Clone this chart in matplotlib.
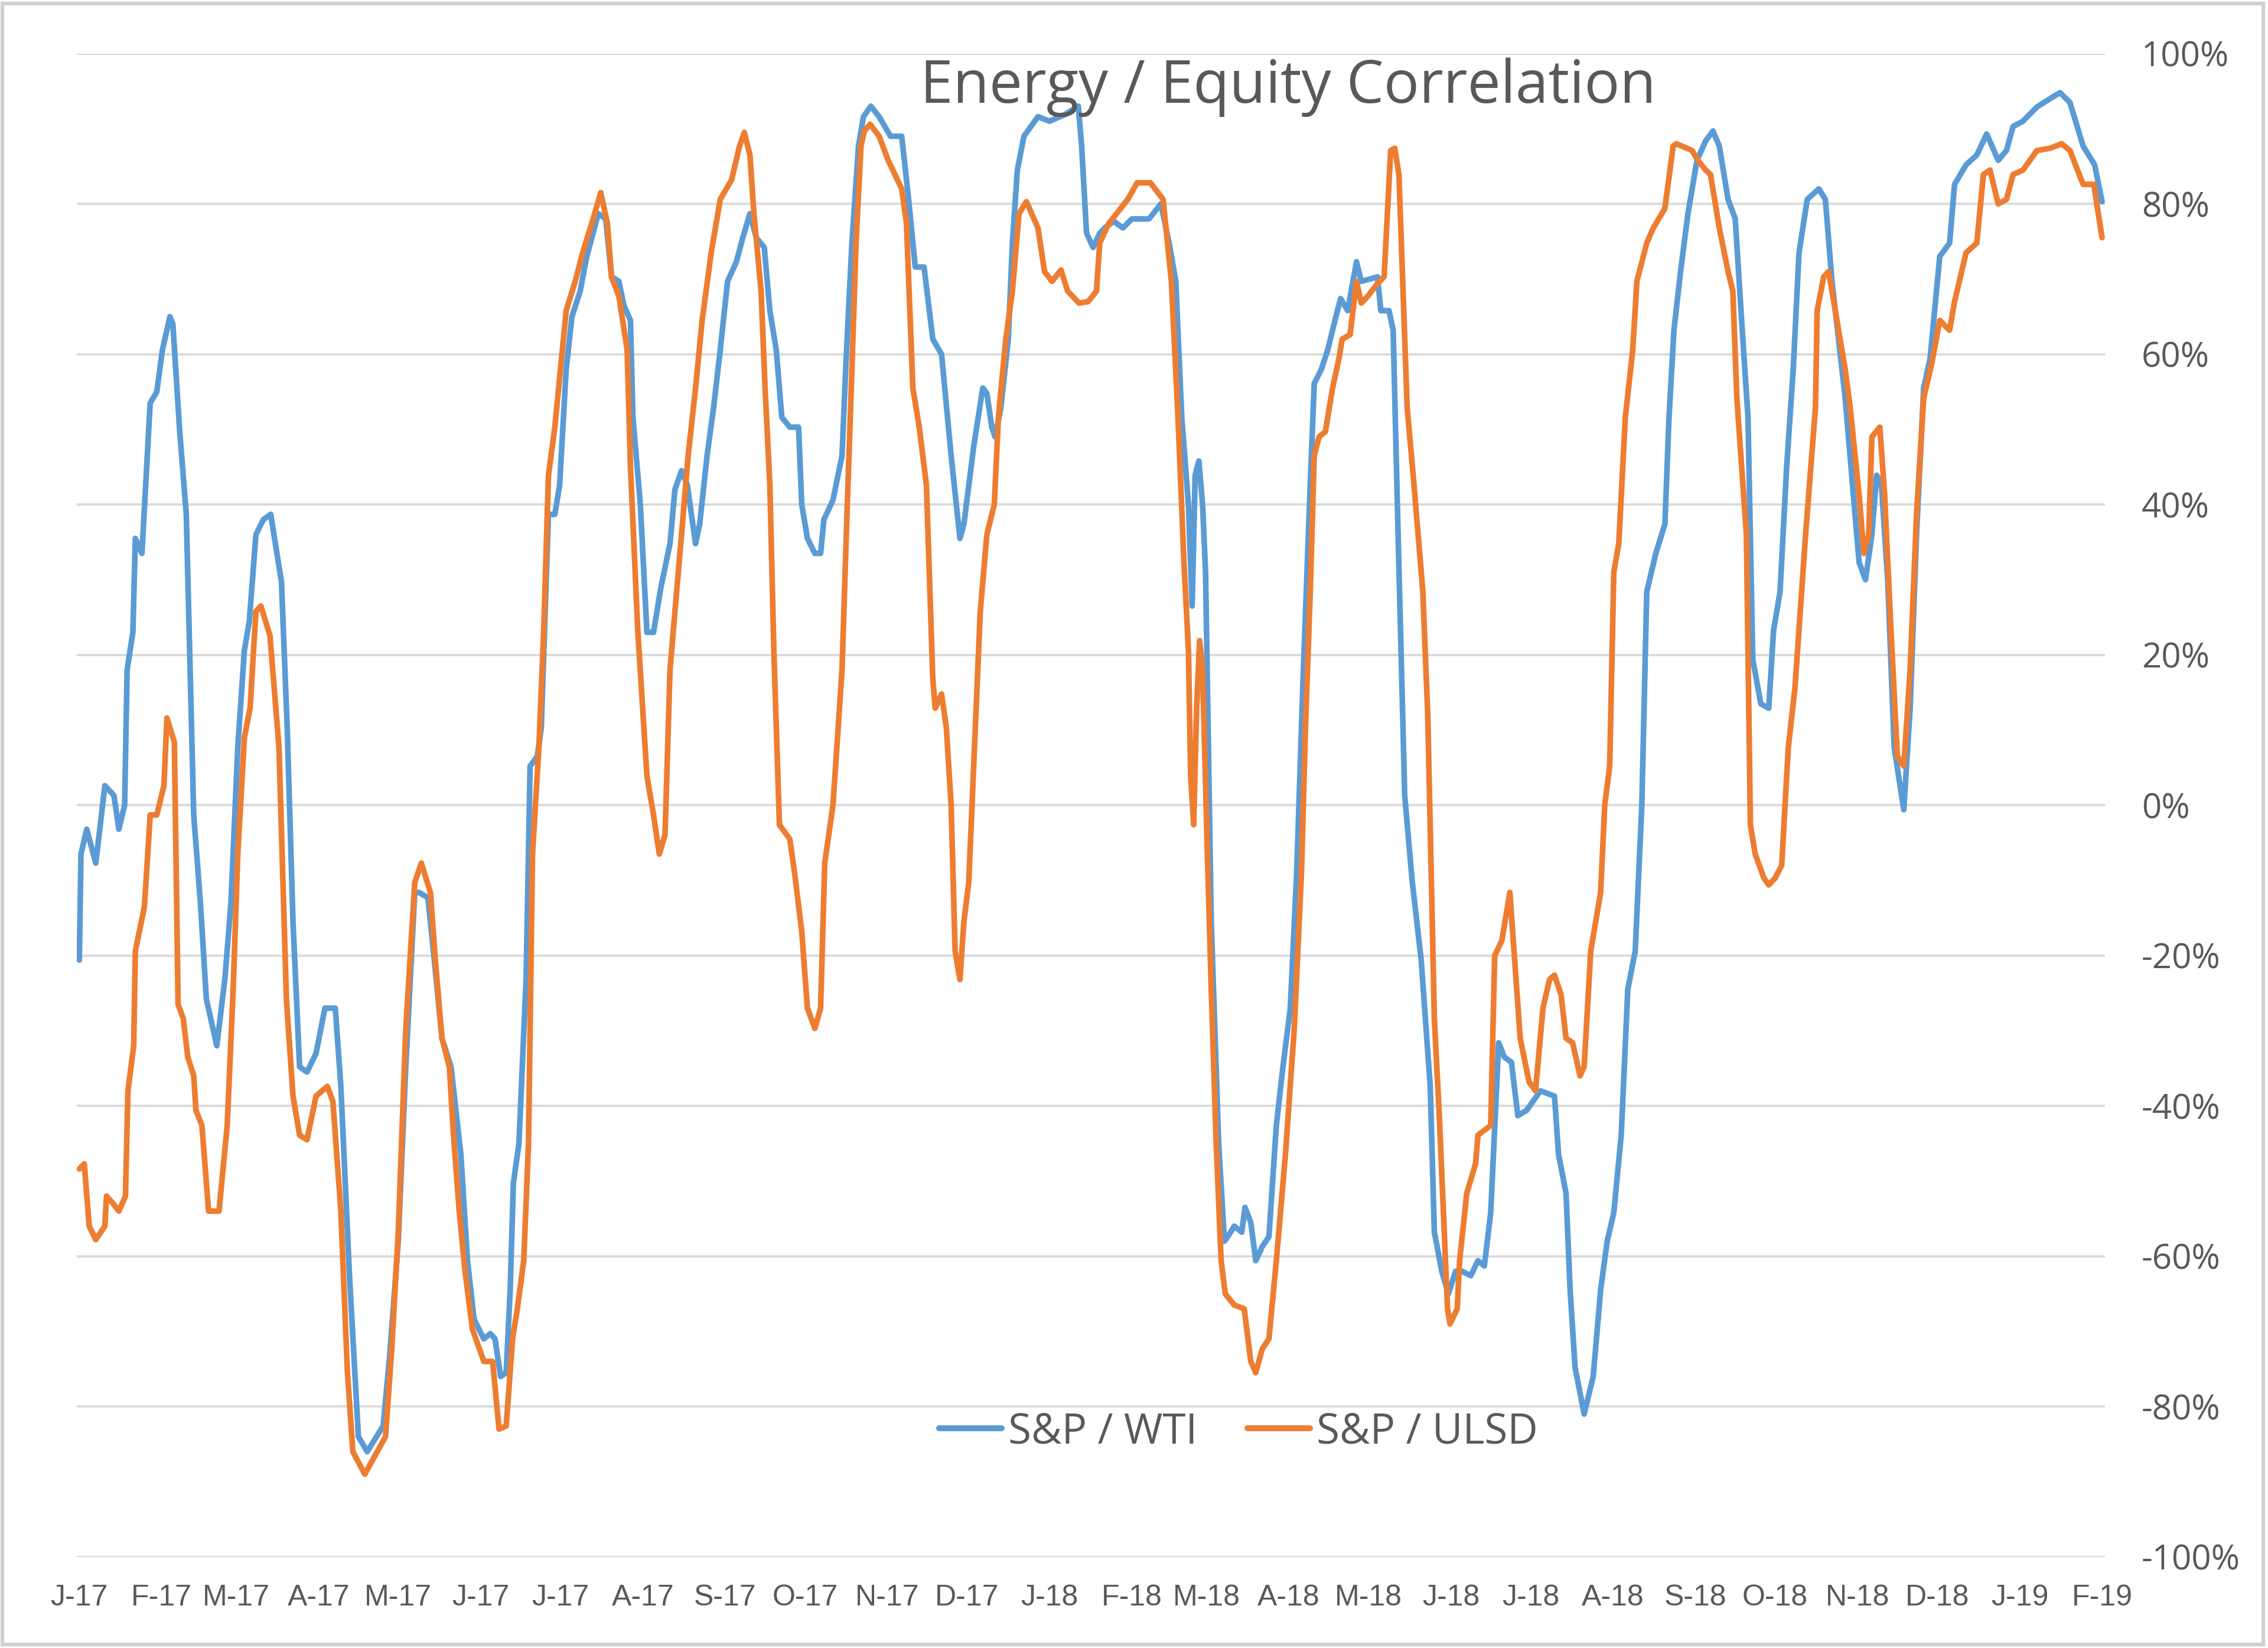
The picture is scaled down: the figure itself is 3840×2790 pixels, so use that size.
import numpy as np
import pandas as pd
import matplotlib
matplotlib.use("Agg")
import matplotlib.pyplot as plt
from matplotlib.patches import Rectangle

# ---------------- data (months since 1-Jan-2017, correlation in %) ----------------
wti_t = [0.0, 0.02, 0.09, 0.2, 0.31, 0.42, 0.48, 0.55, 0.58, 0.65, 0.68, 0.76, 0.86, 0.94, 1.01, 1.11, 1.15,
         1.24, 1.33, 1.43, 1.52, 1.6, 1.74, 1.85, 1.93, 2.02, 2.1, 2.16, 2.24, 2.33, 2.42, 2.55, 2.62, 2.69,
         2.77, 2.86, 2.97, 3.08, 3.21, 3.28, 3.39, 3.5, 3.61, 3.81, 3.89, 4.0, 4.09, 4.2, 4.25, 4.36, 4.45,
         4.53, 4.64, 4.76, 4.84, 4.92, 5.04, 5.12, 5.18, 5.25, 5.32, 5.37, 5.41, 5.48, 5.57, 5.62, 5.71,
         5.76, 5.85, 5.93, 5.99, 6.07, 6.14, 6.24, 6.32, 6.46, 6.55, 6.62, 6.71, 6.77, 6.85, 6.88, 6.97,
         7.05, 7.13, 7.22, 7.33, 7.39, 7.47, 7.54, 7.64, 7.69, 7.78, 7.86, 7.94, 8.03, 8.14, 8.22, 8.31,
         8.39, 8.49, 8.56, 8.64, 8.71, 8.81, 8.92, 8.96, 9.03, 9.12, 9.19, 9.23, 9.34, 9.45, 9.5, 9.57,
         9.65, 9.71, 9.8, 9.9, 10.04, 10.18, 10.26, 10.35, 10.46, 10.57, 10.68, 10.8, 10.91, 10.96, 11.08,
         11.19, 11.24, 11.3, 11.34, 11.41, 11.5, 11.55, 11.61, 11.69, 11.86, 12.0, 12.19, 12.35, 12.39,
         12.45, 12.53, 12.61, 12.67, 12.78, 12.89, 13.0, 13.23, 13.39, 13.5, 13.59, 13.67, 13.76, 13.81,
         13.85, 13.9, 13.95, 13.99, 14.06, 14.15, 14.22, 14.26, 14.34, 14.43, 14.47, 14.54, 14.6, 14.68,
         14.76, 14.85, 14.93, 15.02, 15.1, 15.18, 15.27, 15.32, 15.41, 15.49, 15.58, 15.65, 15.74, 15.85,
         15.91, 16.02, 16.11, 16.15, 16.25, 16.3, 16.36, 16.44, 16.53, 16.64, 16.75, 16.8, 16.89, 16.97,
         17.06, 17.14, 17.25, 17.34, 17.42, 17.5, 17.6, 17.67, 17.76, 17.84, 17.95, 18.12, 18.29, 18.34,
         18.43, 18.48, 18.54, 18.65, 18.76, 18.85, 18.93, 19.01, 19.1, 19.18, 19.27, 19.35, 19.41, 19.52,
         19.63, 19.68, 19.74, 19.82, 19.91, 20.02, 20.13, 20.22, 20.3, 20.41, 20.5, 20.58, 20.66, 20.72,
         20.82, 20.92, 20.98, 21.06, 21.14, 21.22, 21.29, 21.39, 21.53, 21.61, 21.69, 21.77, 21.85, 21.93,
         22.02, 22.1, 22.18, 22.24, 22.3, 22.38, 22.46, 22.58, 22.66, 22.74, 22.83, 22.91, 23.03, 23.15,
         23.21, 23.35, 23.48, 23.6, 23.74, 23.84, 23.92, 24.04, 24.21, 24.37, 24.49, 24.61, 24.77, 24.91,
         25.0]
wti_val = [-20.6, -6.5, -3.2, -7.7, 2.6, 1.3, -3.2, 0, 18, 23, 35.5, 33.5, 53.5, 55, 60.6, 65, 64,
           50, 38.7, -1.3, -13, -25.8, -32, -23, -13, 7.7, 20.6, 24.5, 36, 38, 38.7, 29.7, 10.3, -15.5,
           -34.8, -35.5, -33, -27, -27, -37.4, -63, -84, -86, -82.6, -73.5, -58, -35, -11.6, -11.6, -12.3, -22,
           -31, -34.8, -46.5, -60.6, -68.4, -71, -70.3, -71, -76, -75.5, -64.5, -50.3, -45, -23, 5.2, 6.5,
           10.3, 38.7, 38.7, 42.6, 58, 65, 68.4, 73, 78.7, 78, 70.3, 69.7, 66.5, 64.5, 51.6, 40,
           23, 23, 29, 34.8, 42, 44.5, 42.6, 34.8, 37.4, 46.5, 53, 60.6, 69.7, 72.3, 75.5, 78.7,
           75.5, 74.2, 65.8, 60.6, 51.6, 50.3, 50.3, 40, 35.5, 33.5, 33.5, 38, 40.6, 46.5, 59.4, 74.8,
           87.7, 91.6, 93, 91.6, 89, 89, 81.3, 71.6, 71.6, 62, 60, 46.5, 35.5, 37.4, 47.7,
           55.5, 54.8, 50.3, 49, 52.9, 62, 74.8, 84.5, 89, 91.6, 91, 91.9, 93, 87.7,
           76.1, 74.2, 76.1, 76.8, 77.7, 76.8, 78, 78, 80, 74.8, 69.7, 51.6, 40, 26.5,
           43.9, 45.8, 40, 31, -15.5, -45, -58, -57.4, -56, -56.8, -53.5, -55.5, -60.6, -58.7,
           -57.4, -42.6, -34.8, -27, -9, 16.8, 42.6, 56.1, 58, 60.6, 64.5, 67.4, 65.8, 72.3,
           69.7, 70, 70.3, 65.8, 65.8, 63.2, 36, 1.3, -10, -20.6, -37.4, -56.8, -62, -65,
           -62, -62, -62.6, -60.6, -61.3, -54.2, -31.6, -33.5, -34.2, -41.3, -40.6, -38, -38.7, -46.5,
           -51.6, -64.5, -74.8, -81, -76, -64.5, -58, -54.2, -43.9, -24.5, -19.4, 0, 28.4, 33.5,
           37.4, 51.6, 63.2, 71, 78.7, 85.8, 88.4, 89.7, 87.7, 80.6, 78, 64.5, 51.6, 19.4,
           13.5, 12.9, 23.2, 28.4, 45, 58, 73.5, 80.6, 82, 80.6, 69.7, 62, 54.2, 43.9,
           32.3, 30, 36, 43.9, 42.6, 29.7, 7.7, -0.6, 12.9, 36, 55.5, 59.4, 73, 74.8,
           82.6, 85.2, 86.5, 89.3, 85.8, 87.1, 90.3, 91, 92.9, 94, 94.8, 93.5, 87.7, 85.2,
           80.3]

ulsd_t = [0.0, 0.06, 0.12, 0.2, 0.31, 0.33, 0.41, 0.48, 0.56, 0.59, 0.66, 0.68, 0.79, 0.86, 0.94, 1.03, 1.07,
          1.17, 1.22, 1.29, 1.35, 1.43, 1.46, 1.54, 1.63, 1.77, 1.88, 1.96, 2.02, 2.1, 2.17, 2.24, 2.3, 2.41,
          2.52, 2.61, 2.69, 2.77, 2.86, 2.97, 3.11, 3.18, 3.28, 3.36, 3.43, 3.58, 3.84, 3.92, 4.0, 4.09, 4.2,
          4.28, 4.39, 4.45, 4.53, 4.62, 4.67, 4.74, 4.81, 4.9, 5.04, 5.15, 5.23, 5.32, 5.4, 5.46, 5.54,
          5.6, 5.65, 5.73, 5.79, 5.85, 5.93, 5.99, 6.07, 6.18, 6.27, 6.38, 6.49, 6.57, 6.62, 6.71, 6.81,
          6.85, 6.94, 7.05, 7.13, 7.2, 7.27, 7.33, 7.39, 7.47, 7.55, 7.64, 7.72, 7.83, 7.94, 8.08, 8.18,
          8.24, 8.31, 8.36, 8.45, 8.5, 8.56, 8.61, 8.68, 8.81, 8.87, 8.96, 9.03, 9.12, 9.19, 9.24, 9.34,
          9.45, 9.51, 9.57, 9.62, 9.68, 9.72, 9.79, 9.9, 10.01, 10.18, 10.24, 10.32, 10.4, 10.49, 10.57,
          10.6, 10.68, 10.74, 10.8, 10.85, 10.91, 10.96, 11.02, 11.1, 11.16, 11.24, 11.33, 11.38, 11.47,
          11.55, 11.63, 11.72, 11.86, 11.94, 12.03, 12.14, 12.22, 12.36, 12.47, 12.57, 12.61, 12.72, 12.95,
          13.07, 13.25, 13.42, 13.53, 13.62, 13.7, 13.76, 13.79, 13.83, 13.87, 13.91, 13.95, 14.01, 14.06,
          14.12, 14.18, 14.23, 14.34, 14.46, 14.54, 14.6, 14.68, 14.76, 14.85, 14.96, 15.07, 15.16, 15.21,
          15.27, 15.32, 15.38, 15.46, 15.55, 15.63, 15.67, 15.77, 15.85, 15.91, 15.99, 16.11, 16.19, 16.27,
          16.32, 16.37, 16.47, 16.55, 16.66, 16.72, 16.8, 16.86, 16.96, 16.99, 17.08, 17.11, 17.2, 17.31,
          17.34, 17.5, 17.55, 17.64, 17.74, 17.81, 17.87, 17.98, 18.06, 18.15, 18.23, 18.29, 18.37, 18.43,
          18.51, 18.6, 18.65, 18.73, 18.79, 18.85, 18.9, 18.96, 19.01, 19.07, 19.15, 19.24, 19.29, 19.41,
          19.49, 19.63, 19.73, 19.77, 19.96, 20.03, 20.13, 20.19, 20.3, 20.41, 20.47, 20.52, 20.64, 20.69,
          20.75, 20.86, 20.92, 21.0, 21.08, 21.16, 21.24, 21.37, 21.49, 21.51, 21.59, 21.65, 21.77, 21.85,
          21.91, 22.02, 22.08, 22.14, 22.18, 22.28, 22.34, 22.42, 22.5, 22.58, 22.66, 22.74, 22.83, 22.93,
          23.03, 23.15, 23.21, 23.35, 23.48, 23.56, 23.64, 23.74, 23.84, 23.92, 24.04, 24.21, 24.37, 24.51,
          24.61, 24.77, 24.9, 25.0]
ulsd_val = [-48.4, -47.7, -56, -57.8, -56, -52, -53, -54, -52, -38, -32, -19.4, -13.5, -1.3, -1.3, 2.6, 11.6,
            8.4, -26.5, -28.4, -33.5, -36, -40.6, -42.6, -54, -54, -42.6, -24.5, -6.5, 9, 13, 25.8, 26.5, 22.6,
            7.7, -25.8, -38.7, -43.9, -44.5, -38.7, -37.4, -39.4, -54, -75, -86, -89, -84, -72, -56.8, -30, -10.3,
            -7.7, -11.6, -20.6, -31, -34.8, -43.9, -54, -62, -69.7, -74, -74, -83, -82.6, -71, -67, -60.6,
            -45, -6.5, 7.7, 23, 43.9, 50.3, 56.8, 65.8, 69.7, 73.5, 77.4, 81.5, 77.4, 70.3, 67.7, 60.6,
            45, 23, 3.9, -1.3, -6.5, -3.9, 18, 25.8, 36, 46.5, 55.5, 64.5, 73.5, 80.6, 83.2, 87.7,
            89.5, 86.5, 78.7, 68.4, 55.5, 42.6, 20.6, -2.6, -4.5, -9, -16.8, -27, -29.7, -27, -7.7, 0,
            18, 38.7, 58, 74.8, 87.7, 89.7, 90.6, 89, 85.8, 82, 77.4, 55.5, 50.3, 42.6, 16.8,
            12.9, 14.8, 10.3, 0, -19.4, -23.2, -15.5, -10.3, 10.3, 25.8, 36, 40, 51.6, 62,
            68.4, 78.7, 80.3, 76.8, 71, 69.7, 71.2, 68.4, 66.8, 67, 68.4, 74.8, 77.4, 80.6,
            82.8, 82.8, 80.6, 69.7, 51.6, 32.3, 20.6, 3.9, -2.6, 12.9, 21.9, 18, -5.2, -24.5,
            -45, -60.6, -65, -66.5, -67, -74, -75.5, -72.3, -71, -60.6, -46.5, -29.7, -9, 10.3,
            28.4, 46.5, 49, 49.7, 55.5, 59.4, 62, 62.6, 69.7, 66.8, 67.7, 69.4, 70.3, 87.1,
            87.4, 83.9, 52.9, 43, 28.4, 12, -28.4, -41.3, -67, -69, -67, -60.6, -51.6, -47.7,
            -43.9, -42.6, -20, -18, -11.6, -22, -31, -36.8, -38, -27, -23.2, -22.6, -25.2, -31,
            -31.6, -36, -34.8, -19.4, -15.5, -11.6, 0, 5.2, 31, 34.8, 51.6, 60.6, 69.7, 74.8,
            76.8, 79.4, 87.7, 88, 87.1, 85.8, 84.5, 83.9, 76.8, 71, 68.4, 54.2, 36, -2.6,
            -6.5, -9.7, -10.6, -9.7, -8, 7.7, 15.5, 36, 53, 65.8, 70.3, 71, 63.2, 58,
            53, 41.3, 33.5, 36, 49, 50.3, 41.3, 23.2, 6.5, 5.2, 18, 38.7, 54.2, 58.7,
            64.5, 63.2, 67, 73.5, 74.8, 83.9, 84.5, 80, 80.6, 83.9, 84.5, 87.1, 87.4, 88,
            87.1, 82.6, 82.6, 75.5]

series_names = ["S&P / WTI", "S&P / ULSD"]
series_colors = ["#5B9BD5", "#ED7D31"]
y_ticks = [-100, -80, -60, -40, -20, 0, 20, 40, 60, 80, 100]
month_letters = ["J", "F", "M", "A", "M", "J", "J", "A", "S", "O", "N", "D"]
title_text = "Energy / Equity Correlation"


def months_to_dates(ts):
    base = pd.Timestamp(2017, 1, 1)
    out = []
    for m in ts:
        i = int(np.floor(m))
        f = m - i
        start = base + pd.DateOffset(months=i)
        nxt = base + pd.DateOffset(months=i + 1)
        out.append(start + (nxt - start) * f)
    return pd.to_datetime(out)


wti_dates = months_to_dates(wti_t)
ulsd_dates = months_to_dates(ulsd_t)

# ---------------- figure ----------------
W, H, DPI = 3840, 2790, 300
fig = plt.figure(figsize=(W / DPI, H / DPI), dpi=DPI)
fig.patch.set_facecolor("white")

ax = fig.add_axes([0.0338, 0.0553, 0.928 - 0.0338, 0.9675 - 0.0553])
ax.set_facecolor("white")

ax.plot(wti_dates, wti_val, color=series_colors[0], lw=2.3, label=series_names[0],
        solid_joinstyle="round", solid_capstyle="round", zorder=3)
ax.plot(ulsd_dates, ulsd_val, color=series_colors[1], lw=2.3, label=series_names[1],
        solid_joinstyle="round", solid_capstyle="round", zorder=4)

ax.set_ylim(-100, 100)
ax.set_xlim(pd.Timestamp(2016, 12, 31), pd.Timestamp(2019, 2, 2))

for s in ax.spines.values():
    s.set_visible(False)

ax.yaxis.tick_right()
ax.set_yticks(y_ticks)
ax.set_yticklabels([f"{v}%" for v in y_ticks])
ax.grid(axis="y", color="#D9D9D9", lw=0.9, zorder=0)
ax.set_axisbelow(True)

tick_dates = pd.date_range("2017-01-01", "2019-02-01", freq="MS")
ax.set_xticks(tick_dates)
ax.set_xticklabels([f"{month_letters[d.month - 1]}-{d.strftime('%y')}" for d in tick_dates])

ax.tick_params(axis="y", length=0, pad=15, labelsize=14, labelcolor="#595959")
ax.tick_params(axis="x", length=0, pad=11, labelsize=12, labelcolor="#595959")
for lab in ax.get_yticklabels():
    lab.set_fontfamily(["Open Sans", "DejaVu Sans"])
for lab in ax.get_xticklabels():
    lab.set_fontfamily(["Liberation Sans Narrow", "Liberation Sans", "DejaVu Sans"])

fig.text(0.568, 0.947, title_text, ha="center", va="center", fontsize=24,
         color="#595959", family=["Open Sans", "DejaVu Sans"], zorder=10)

leg = fig.legend(loc="center", bbox_to_anchor=(0.546, 0.131), ncol=2, frameon=False,
                 handlelength=1.5, handletextpad=0.15, columnspacing=1.2,
                 prop={"family": ["Open Sans", "DejaVu Sans"], "size": 17})
for t in leg.get_texts():
    t.set_color("#595959")
for h in leg.get_lines():
    h.set_linewidth(2.4)

fig.patches.append(Rectangle((0.001, 0.002), 0.997, 0.996, transform=fig.transFigure,
                             fill=False, edgecolor="#D0D0D0", lw=1.5))

fig.savefig("out.png", dpi=DPI, facecolor="white")
